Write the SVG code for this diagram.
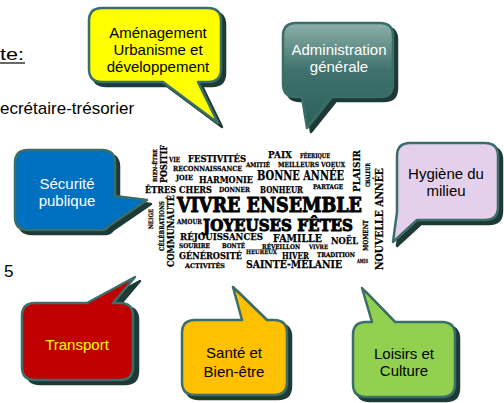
<svg xmlns="http://www.w3.org/2000/svg" xmlns:xlink="http://www.w3.org/1999/xlink" width="504" height="403" viewBox="0 0 504 403">
<style>
  .shadow { fill:#1e3a36; stroke:#1e3a36; stroke-width:2.5; stroke-linejoin:round; }
  .bub { stroke:#3b6e68; stroke-width:2.5; stroke-linejoin:round; }
  .lbl { font-family:"Liberation Sans", Arial, sans-serif; font-size:15px; text-anchor:middle; }
  .doc { font-family:"Liberation Sans", Arial, sans-serif; font-size:17px; fill:#000; }
  .w { font-family:"DejaVu Serif", "Liberation Serif", serif; font-weight:bold; fill:#000; stroke:#000; stroke-width:0.25; }
  .big { stroke-width:1; }
</style>
<defs>
  <linearGradient id="gTeal" x1="0" y1="0" x2="0" y2="1">
    <stop offset="0" stop-color="#8db0ab"/>
    <stop offset="0.45" stop-color="#3f726d"/>
    <stop offset="1" stop-color="#2c605b"/>
  </linearGradient>
  <path id="p-amen" d="M102,8 H208 Q221,8 221,21 V69 Q221,82 208,82 H198 L218,123 L163,82 H102 Q89,82 89,69 V21 Q89,8 102,8 Z"/>
  <path id="p-admin" d="M296,23 H380 Q393,23 393,36 V84 Q393,97 380,97 H332 L307,128 L302,97 H296 Q283,97 283,84 V36 Q283,23 296,23 Z"/>
  <path id="p-secu" d="M28,150 H102 Q115,150 115,163 V196 L147,200 L109,226 Q106,230 101,230 H28 Q15,230 15,217 V163 Q15,150 28,150 Z"/>
  <path id="p-hyg" d="M410,143 H485 Q498,143 498,156 V207 Q498,220 485,220 H417 L393,242 L397,212 V156 Q397,143 410,143 Z"/>
  <path id="p-trans" d="M35,303 H87 L135,277 L113,303 H120 Q133,303 133,316 V367 Q133,380 120,380 H35 Q22,380 22,367 V316 Q22,303 35,303 Z"/>
  <path id="p-sante" d="M195,320 H242 L233,287 L267,320 H274 Q287,320 287,333 V382 Q287,395 274,395 H195 Q182,395 182,382 V333 Q182,320 195,320 Z"/>
  <path id="p-loisirs" d="M366,322 H372 L362,288 L395,322 H442 Q455,322 455,335 V384 Q455,397 442,397 H366 Q353,397 353,384 V335 Q353,322 366,322 Z"/>
</defs>
<rect x="0" y="0" width="504" height="403" fill="#ffffff"/>

<g id="doc-text">
  <text class="doc" x="0" y="60" font-size="18" textLength="24" lengthAdjust="spacingAndGlyphs">te:</text>
  <line x1="0" y1="63" x2="25" y2="63" stroke="#000" stroke-width="1.2"/>
  <text class="doc" x="0" y="114">ecrétaire-trésorier</text>
  <text class="doc" x="4" y="277">5</text>
</g>

<g id="connectors"></g>

<g id="wordcloud">
  <text class="w" transform="translate(157,182) rotate(-90)" font-size="5.5" textLength="33" lengthAdjust="spacingAndGlyphs">BIEN-ÊTRE</text>
  <text class="w" transform="translate(166.5,183) rotate(-90)" font-size="9" textLength="38" lengthAdjust="spacingAndGlyphs">POSITIF</text>
  <text class="w" x="169" y="162" font-size="7" textLength="11" lengthAdjust="spacingAndGlyphs">VIE</text>
  <text class="w" x="188" y="162" font-size="10" textLength="58" lengthAdjust="spacingAndGlyphs">FESTIVITÉS</text>
  <text class="w" x="246" y="167" font-size="6.5" textLength="24" lengthAdjust="spacingAndGlyphs">AMITIÉ</text>
  <text class="w" x="268" y="158" font-size="10" textLength="24" lengthAdjust="spacingAndGlyphs">PAIX</text>
  <text class="w" x="300" y="158" font-size="6.5" textLength="30" lengthAdjust="spacingAndGlyphs">FÉERIQUE</text>
  <text class="w" x="278" y="167" font-size="7" textLength="67" lengthAdjust="spacingAndGlyphs">MEILLEURS VOEUX</text>
  <text class="w" x="173" y="171" font-size="7" textLength="69" lengthAdjust="spacingAndGlyphs">RECONNAISSANCE</text>
  <text class="w" x="176" y="180" font-size="7" textLength="17" lengthAdjust="spacingAndGlyphs">JOIE</text>
  <text class="w" x="199" y="183" font-size="10" textLength="54" lengthAdjust="spacingAndGlyphs">HARMONIE</text>
  <text class="w" x="257" y="180" font-size="12.5" textLength="87" lengthAdjust="spacingAndGlyphs">BONNE ANNÉE</text>
  <text class="w" transform="translate(360,192) rotate(-90)" font-size="10" textLength="42" lengthAdjust="spacingAndGlyphs">PLAISIR</text>
  <text class="w" transform="translate(370,187) rotate(-90)" font-size="6" textLength="24" lengthAdjust="spacingAndGlyphs">CHALEUR</text>
  <text class="w" transform="translate(382.5,270) rotate(-90)" font-size="11.5" textLength="102" lengthAdjust="spacingAndGlyphs">NOUVELLE ANNÉE</text>
  <text class="w" x="145" y="193" font-size="10" textLength="67" lengthAdjust="spacingAndGlyphs">ÊTRES CHERS</text>
  <text class="w" x="219" y="192" font-size="7" textLength="31" lengthAdjust="spacingAndGlyphs">DONNER</text>
  <text class="w" x="260" y="193" font-size="8.5" textLength="43" lengthAdjust="spacingAndGlyphs">BONHEUR</text>
  <text class="w" x="313" y="189" font-size="6.5" textLength="30" lengthAdjust="spacingAndGlyphs">PARTAGE</text>
  <text class="w" transform="translate(174,267) rotate(-90)" font-size="10" textLength="72" lengthAdjust="spacingAndGlyphs">COMMUNAUTÉ</text>
  <text class="w" transform="translate(164,251) rotate(-90)" font-size="6.5" textLength="50" lengthAdjust="spacingAndGlyphs">CÉLÉBRATIONS</text>
  <text class="w" transform="translate(153,229) rotate(-90)" font-size="6" textLength="20" lengthAdjust="spacingAndGlyphs">NEIGE</text>
  <text class="w big" x="177" y="212" font-size="21" textLength="185" lengthAdjust="spacingAndGlyphs">VIVRE ENSEMBLE</text>
  <text class="w" x="177" y="224" font-size="7" textLength="25" lengthAdjust="spacingAndGlyphs">AMOUR</text>
  <text class="w big" x="203" y="231" font-size="17" textLength="150" lengthAdjust="spacingAndGlyphs">JOYEUSES FÊTES</text>
  <text class="w" x="180" y="240" font-size="10" textLength="83" lengthAdjust="spacingAndGlyphs">RÉJOUISSANCES</text>
  <text class="w" x="273" y="242" font-size="10.5" textLength="49" lengthAdjust="spacingAndGlyphs">FAMILLE</text>
  <text class="w" x="331" y="244" font-size="9.5" textLength="27" lengthAdjust="spacingAndGlyphs">NOËL</text>
  <text class="w" transform="translate(368,251) rotate(-90)" font-size="7" textLength="31" lengthAdjust="spacingAndGlyphs">MOMENT</text>
  <text class="w" x="179" y="248" font-size="6.5" textLength="31" lengthAdjust="spacingAndGlyphs">SOURIRE</text>
  <text class="w" x="222" y="248" font-size="6.5" textLength="23" lengthAdjust="spacingAndGlyphs">BONTÉ</text>
  <text class="w" x="262" y="249" font-size="6.5" textLength="38" lengthAdjust="spacingAndGlyphs">RÉVEILLON</text>
  <text class="w" x="309" y="249" font-size="6" textLength="19" lengthAdjust="spacingAndGlyphs">VIVRE</text>
  <text class="w" x="179" y="259" font-size="10" textLength="63" lengthAdjust="spacingAndGlyphs">GÉNÉROSITÉ</text>
  <text class="w" x="246" y="254" font-size="6" textLength="31" lengthAdjust="spacingAndGlyphs">HEUREUX</text>
  <text class="w" x="282" y="259" font-size="9" textLength="27" lengthAdjust="spacingAndGlyphs">HIVER</text>
  <text class="w" x="317" y="257" font-size="6.5" textLength="38" lengthAdjust="spacingAndGlyphs">TRADITION</text>
  <text class="w" x="357" y="263" font-size="5.5" textLength="11" lengthAdjust="spacingAndGlyphs">AMIS</text>
  <text class="w" x="185" y="268" font-size="6.5" textLength="40" lengthAdjust="spacingAndGlyphs">ACTIVITÉS</text>
  <text class="w" x="246" y="268" font-size="11" textLength="96" lengthAdjust="spacingAndGlyphs">SAINTE-MÉLANIE</text>
</g>

<g id="amenagement">
  <use xlink:href="#p-amen" class="shadow" transform="translate(4,4)"/>
  <use xlink:href="#p-amen" class="bub" fill="#ffff00"/>
  <text class="lbl" fill="#000"><tspan x="158" y="38">Aménagement</tspan><tspan x="158" y="55">Urbanisme et</tspan><tspan x="158" y="72">développement</tspan></text>
</g>

<g id="administration">
  <use xlink:href="#p-admin" class="shadow" transform="translate(4,4)"/>
  <use xlink:href="#p-admin" class="bub" fill="url(#gTeal)"/>
  <text class="lbl" fill="#ffffff"><tspan x="339" y="55">Administration</tspan><tspan x="339" y="72">générale</tspan></text>
</g>

<g id="securite">
  <use xlink:href="#p-secu" class="shadow" transform="translate(4,4)"/>
  <use xlink:href="#p-secu" class="bub" fill="#0070c0"/>
  <text class="lbl" fill="#ffffff"><tspan x="67" y="189">Sécurité</tspan><tspan x="67" y="206">publique</tspan></text>
</g>

<g id="hygiene">
  <use xlink:href="#p-hyg" class="shadow" transform="translate(4,4)"/>
  <use xlink:href="#p-hyg" class="bub" fill="#e4d0ea"/>
  <text class="lbl" fill="#000"><tspan x="446" y="179">Hygiène du</tspan><tspan x="446" y="196">milieu</tspan></text>
</g>

<g id="transport">
  <use xlink:href="#p-trans" class="shadow" transform="translate(5,4)"/>
  <use xlink:href="#p-trans" class="bub" fill="#c00000"/>
  <text class="lbl" fill="#ffff00" x="77" y="350">Transport</text>
</g>

<g id="sante">
  <use xlink:href="#p-sante" class="shadow" transform="translate(4,4)"/>
  <use xlink:href="#p-sante" class="bub" fill="#ffc000"/>
  <text class="lbl" fill="#000"><tspan x="234" y="358">Santé et</tspan><tspan x="234" y="377">Bien-être</tspan></text>
</g>

<g id="loisirs">
  <use xlink:href="#p-loisirs" class="shadow" transform="translate(4,4)"/>
  <use xlink:href="#p-loisirs" class="bub" fill="#92d050"/>
  <text class="lbl" fill="#000"><tspan x="404" y="359">Loisirs et</tspan><tspan x="404" y="376">Culture</tspan></text>
</g>
</svg>
